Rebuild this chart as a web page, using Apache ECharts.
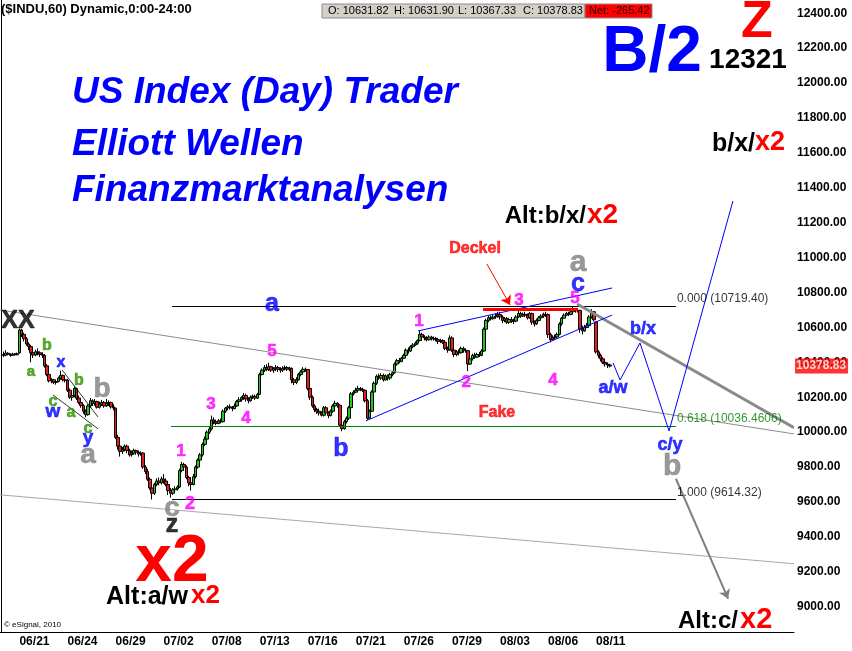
<!DOCTYPE html>
<html><head><meta charset="utf-8">
<script src="https://cdn.jsdelivr.net/npm/echarts@6/dist/echarts.min.js"></script>
<style>html,body{margin:0;padding:0;background:#fff}#c{width:852px;height:651px}</style>
</head><body><div id="c"></div>
<script>
// ---------------- DATA ----------------
const dayDates = ['06/18','06/21','06/22','06/23','06/24','06/25','06/28','06/29','06/30','07/01','07/02','07/06','07/07','07/08','07/09','07/12','07/13','07/14','07/15','07/16','07/19','07/20','07/21','07/22','07/23','07/26','07/27','07/28','07/29','07/30','08/02','08/03','08/04','08/05','08/06','08/09','08/10','08/11'];
const xTickLabels = ['06/21','06/24','06/29','07/02','07/08','07/13','07/16','07/21','07/26','07/29','08/03','08/06','08/11'];
const yTickValues = [9000,9200,9400,9600,9800,10000,10200,10400,10600,10800,11000,11200,11400,11600,11800,12000,12200,12400];
// hourly bars per day: [open, close, low, high]
const hourlyOHLC = [
[[10445,10440,10430,10462],[10440,10452,10435,10470],[10452,10446,10440,10458],[10446,10440,10432,10452],[10440,10447,10436,10455],[10447,10444,10438,10452],[10444,10450,10440,10456]],
[[10455,10585,10450,10594],[10585,10560,10545,10592],[10560,10535,10520,10570],[10535,10505,10495,10545],[10505,10490,10470,10515],[10490,10455,10400,10500],[10455,10442,10425,10465]],
[[10442,10460,10435,10472],[10460,10455,10440,10480],[10455,10445,10430,10462],[10445,10440,10425,10458],[10440,10380,10370,10448],[10380,10330,10320,10390],[10330,10294,10285,10340]],
[[10294,10300,10280,10310],[10300,10285,10275,10305],[10285,10290,10272,10300],[10290,10310,10285,10318],[10310,10325,10300,10352],[10325,10300,10290,10330],[10300,10298,10285,10310]],
[[10298,10240,10230,10305],[10240,10200,10190,10250],[10200,10210,10180,10225],[10210,10250,10200,10262],[10250,10195,10185,10255],[10195,10170,10160,10210],[10170,10152,10140,10180]],
[[10152,10120,10105,10160],[10120,10100,10085,10130],[10100,10150,10095,10160],[10150,10180,10140,10195],[10180,10165,10150,10188],[10165,10175,10150,10190],[10175,10143,10135,10180]],
[[10143,10160,10135,10175],[10160,10170,10150,10185],[10170,10150,10140,10178],[10150,10165,10145,10190],[10165,10170,10150,10182],[10170,10145,10135,10175],[10145,10138,10125,10160]],
[[10138,9970,9960,10140],[9970,9920,9900,9985],[9920,9890,9860,9930],[9890,9900,9875,9915],[9900,9920,9890,9930],[9920,9895,9880,9928],[9895,9870,9860,9905]],
[[9870,9880,9860,9895],[9880,9895,9870,9905],[9895,9885,9870,9900],[9885,9875,9860,9895],[9875,9880,9865,9890],[9880,9800,9790,9885],[9800,9774,9760,9810]],
[[9774,9730,9720,9790],[9730,9680,9670,9740],[9680,9650,9614,9690],[9650,9700,9640,9710],[9700,9720,9690,9735],[9720,9710,9695,9740],[9710,9732,9700,9745]],
[[9732,9720,9705,9760],[9720,9700,9690,9735],[9700,9665,9640,9710],[9665,9650,9625,9680],[9650,9670,9640,9680],[9670,9675,9655,9690],[9675,9686,9665,9695]],
[[9686,9780,9680,9790],[9780,9815,9770,9830],[9815,9800,9785,9825],[9800,9740,9730,9810],[9740,9710,9690,9750],[9710,9700,9665,9725],[9700,9745,9695,9760]],
[[9745,9800,9735,9810],[9800,9840,9790,9850],[9840,9870,9830,9880],[9870,9930,9860,9940],[9930,9960,9920,9975],[9960,10000,9950,10010],[10000,10018,9990,10035]],
[[10018,10070,10010,10095],[10070,10060,10045,10085],[10060,10050,10040,10070],[10050,10065,10045,10075],[10065,10060,10050,10078],[10060,10120,10055,10130],[10120,10138,10110,10145]],
[[10138,10145,10125,10155],[10145,10140,10130,10160],[10140,10135,10120,10150],[10135,10150,10130,10165],[10150,10175,10145,10185],[10175,10185,10165,10200],[10185,10198,10175,10205]],
[[10198,10210,10185,10225],[10210,10190,10175,10220],[10190,10180,10165,10200],[10180,10200,10175,10210],[10200,10205,10190,10215],[10205,10195,10185,10215],[10195,10216,10190,10225]],
[[10216,10330,10215,10340],[10330,10355,10325,10365],[10355,10370,10345,10385],[10370,10360,10350,10390],[10360,10375,10350,10398],[10375,10355,10345,10380],[10355,10363,10340,10372]],
[[10363,10370,10350,10385],[10370,10360,10345,10380],[10360,10355,10340,10372],[10355,10365,10345,10378],[10365,10370,10355,10382],[10370,10360,10350,10378],[10360,10366,10350,10375]],
[[10366,10300,10280,10370],[10300,10285,10270,10310],[10285,10300,10275,10315],[10300,10330,10295,10340],[10330,10345,10320,10355],[10345,10360,10335,10372],[10360,10359,10345,10370]],
[[10359,10250,10240,10362],[10250,10200,10185,10260],[10200,10150,10140,10210],[10150,10130,10115,10160],[10130,10120,10105,10140],[10120,10110,10095,10135],[10110,10097,10090,10120]],
[[10097,10140,10090,10150],[10140,10110,10100,10150],[10110,10095,10080,10120],[10095,10120,10090,10130],[10120,10150,10110,10160],[10150,10165,10140,10180],[10165,10154,10140,10172]],
[[10154,10040,10030,10160],[10040,10020,10005,10050],[10020,10060,10015,10070],[10060,10080,10050,10090],[10080,10140,10070,10150],[10140,10220,10130,10230],[10220,10229,10210,10240]],
[[10229,10240,10225,10255],[10240,10250,10235,10265],[10250,10245,10235,10258],[10245,10240,10230,10255],[10240,10180,10170,10245],[10180,10080,10070,10190],[10080,10120,10075,10130]],
[[10120,10230,10115,10240],[10230,10280,10220,10290],[10280,10320,10270,10330],[10320,10310,10300,10335],[10310,10325,10300,10338],[10325,10300,10290,10335],[10300,10322,10295,10330]],
[[10322,10310,10295,10330],[10310,10330,10300,10340],[10330,10340,10320,10350],[10340,10390,10335,10400],[10390,10410,10380,10420],[10410,10405,10395,10425],[10405,10424,10400,10432]],
[[10424,10440,10420,10450],[10440,10470,10430,10480],[10470,10465,10450,10485],[10465,10490,10460,10498],[10490,10500,10480,10510],[10500,10510,10495,10520],[10510,10525,10500,10532]],
[[10525,10560,10520,10585],[10560,10545,10535,10570],[10545,10540,10525,10555],[10540,10530,10520,10550],[10530,10545,10525,10555],[10545,10535,10525,10552],[10535,10537,10525,10548]],
[[10537,10530,10520,10545],[10530,10520,10505,10540],[10520,10525,10510,10535],[10525,10515,10505,10532],[10515,10480,10470,10520],[10480,10470,10455,10490],[10470,10540,10465,10555]],
[[10540,10470,10460,10550],[10470,10445,10430,10480],[10445,10460,10435,10470],[10460,10455,10440,10475],[10455,10480,10450,10490],[10480,10470,10455,10490],[10470,10467,10455,10480]],
[[10467,10390,10350,10470],[10390,10420,10385,10430],[10420,10440,10410,10450],[10440,10430,10420,10455],[10430,10445,10425,10455],[10445,10440,10430,10460],[10440,10465,10435,10475]],
[[10465,10590,10460,10600],[10590,10640,10580,10650],[10640,10655,10630,10670],[10655,10650,10640,10668],[10650,10660,10645,10675],[10660,10665,10650,10680],[10665,10674,10655,10690]],
[[10674,10660,10645,10690],[10660,10640,10625,10670],[10640,10650,10630,10660],[10650,10630,10620,10660],[10630,10645,10620,10655],[10645,10635,10625,10660],[10635,10636,10620,10650]],
[[10636,10660,10630,10670],[10660,10680,10655,10705],[10680,10665,10655,10690],[10665,10675,10660,10685],[10675,10670,10660,10690],[10670,10655,10645,10680],[10655,10680,10650,10690]],
[[10680,10630,10615,10685],[10630,10620,10605,10640],[10620,10640,10615,10650],[10640,10655,10635,10665],[10655,10665,10650,10675],[10665,10675,10655,10685],[10675,10674,10660,10690]],
[[10674,10560,10540,10680],[10560,10530,10515,10570],[10530,10540,10525,10555],[10540,10545,10530,10560],[10545,10560,10540,10570],[10560,10620,10555,10630],[10620,10653,10610,10660]],
[[10653,10670,10650,10680],[10670,10680,10665,10690],[10680,10675,10665,10690],[10675,10690,10670,10700],[10690,10700,10685,10719.4],[10700,10695,10685,10712],[10695,10698,10685,10708]],
[[10698,10590,10570,10700],[10590,10580,10560,10610],[10580,10600,10575,10615],[10600,10610,10595,10625],[10610,10660,10605,10670],[10660,10690,10650,10705],[10690,10644,10635,10695]],
[[10631.82,10460,10450,10631.9],[10460,10440,10425,10470],[10440,10420,10405,10450],[10420,10400,10390,10430],[10400,10390,10375,10410],[10390,10385,10367.33,10400],[10385,10378.83,10370,10392]]
];
const lastBar = {open:10631.82, high:10631.90, low:10367.33, close:10378.83, net:-265.42};

// ---------------- BUILD ----------------
const F = '"Liberation Sans", Arial, Helvetica, sans-serif';
const N = 347;
const categories = ['_0'];
const candles = ['-'];
dayDates.forEach((d, i) => hourlyOHLC[i].forEach((b, h) => { categories.push(d + ' ' + h); candles.push(b); }));
while (categories.length < N) categories.push('_' + categories.length);

const G = '#2f9400', B = '#0000ff', GR = '#808080', K = '#000000', M = '#ff00ff', R = '#ff0000';
// annotations in data space: [text, bar position, price, color, size]
const notes = [
 ['a',13.05,10345,G,15],['b',20.04,10494,G,16],['x',26.16,10397,B,16],['b',34.0,10294,G,16],
 ['c',22.66,10173,G,16],['w',22.66,10116,B,19],['a',30.53,10110,G,16],['c',37.96,10019,G,16],
 ['y',37.96,9967,B,19],['b',44.08,10248,GR,28],['a',37.96,9870,GR,28],['XX',7.37,10637,K,25],
 ['1',78.6,9893,M,17],['2',82.5,9590,M,18],['3',91.7,10162,M,17],['4',107.0,10082,M,17],
 ['c',74.67,9561,GR,28],['z',74.67,9469,K,25],['a',118.4,10734,B,25],['5',118.4,10465,M,17],
 ['b',148.5,9904,B,25],['1',182.6,10637,M,17],['2',203.2,10288,M,17],['3',226.3,10757,M,17],
 ['4',241.2,10299,M,17],['5',250.8,10769,M,17],['a',252.1,10969,GR,30],['c',252.1,10849,B,25],
 ['Deckel',207.1,11049,R,16],['Fake',216.7,10110,R,16],['b/x',280.5,10591,B,18],['a/w',267.4,10254,B,18],
 ['c/y',292.3,9927,B,18],['b',293.2,9801,GR,30]
];
const fibText = [
 ['0.000 (10719.40)',295.3,10763,'#000'],['0.618 (10036.4606)',295.3,10076,'#008000'],['1.000 (9614.32)',295.3,9652,'#000']
];
const segs = [
 {c:[[74.67,10719.4],[294.9,10719.4]], s:{color:'#000',width:1}},
 {c:[[74.2,10036.46],[294.9,10036.46]], s:{color:'#008000',width:1.2}},
 {c:[[74.67,9614.32],[294.9,9614.32]], s:{color:'#000',width:1}},
 {c:[[-0.5,10700],[346.5,9990]], s:{color:'#8c8c8c',width:1}},
 {c:[[-0.5,9641],[346.5,9246]], s:{color:'#a8a8a8',width:1}},
 {c:[[251.7,10734],[346.5,10025]], s:{color:'#8a8a8a',width:3}},
 {c:[[182.2,10580],[267,10826]], s:{color:'#0000ff',width:1}},
 {c:[[159.45,10065],[267,10671]], s:{color:'#0000ff',width:1}},
 {c:[[210.6,10706],[252.1,10706]], s:{color:'#ff0000',width:3}},
 {c:[[26.6,10357],[42.33,10087]], s:{color:'#000',width:0.8}},
 {c:[[22.66,10213],[42.33,10019]], s:{color:'#000',width:0.8}}
];
const zig = [[267.4,10397],[270.5,10299],[279.2,10511],[291.9,10007],[319.8,11324]];
const arrows = [
 {c:[[212.3,10963],[222.4,10729]], s:{color:'#ff0000',width:1}},
 {c:[[294.9,9733],[317.7,9046]], s:{color:'#808080',width:2}}
];

function gtext(text, x, y, font, fill, align, valign) {
  return {type:'text', x:x, y:y, z:100, style:{text:text, font:font, fill:fill, textAlign:align||'left', textVerticalAlign:valign||'middle'}};
}
const bi = s => 'italic bold ' + s + 'px ' + F;
const b = s => 'bold ' + s + 'px ' + F;

const option = {
  animation:false,
  backgroundColor:'#ffffff',
  grid:{left:0, right:58, top:0, bottom:19, show:false},
  xAxis:[
    {type:'category', data:categories, boundaryGap:true,
     axisLine:{show:true, lineStyle:{color:'#000', width:1}}, axisTick:{show:false},
     axisLabel:{interval:(i, v) => { const p = String(v).split(' '); return p.length === 2 && p[1] === '0' && xTickLabels.includes(p[0]); },
       formatter:v => String(v).split(' ')[0], align:'left', color:'#000', fontFamily:F, fontWeight:'bold', fontSize:12, margin:4},
     splitLine:{show:false}},
    {type:'value', min:-0.5, max:N-0.5, show:false}
  ],
  yAxis:[{type:'value', position:'right', min:8855, max:12476, scale:true,
    axisLine:{show:true, lineStyle:{color:'#000', width:1}}, axisTick:{show:false}, splitLine:{show:false},
    axisLabel:{customValues:yTickValues, formatter:v => Number(v).toFixed(2), color:'#000', fontFamily:F, fontWeight:'bold', fontSize:12, margin:3}}],
  series:[
    {type:'candlestick', xAxisIndex:0, yAxisIndex:0, data:candles, barWidth:3,
     itemStyle:{color:'#20c820', color0:'#e81c1c', borderColor:'#000', borderColor0:'#000', borderWidth:1}},
    {type:'lines', coordinateSystem:'cartesian2d', xAxisIndex:1, yAxisIndex:0, silent:true, z:5,
     data:segs.map(s => ({coords:s.c, lineStyle:s.s})), lineStyle:{opacity:1}},
    {type:'lines', coordinateSystem:'cartesian2d', xAxisIndex:1, yAxisIndex:0, silent:true, polyline:true, z:5,
     data:[{coords:zig}], lineStyle:{color:'#0000ff', width:1, opacity:1}},
    {type:'lines', coordinateSystem:'cartesian2d', xAxisIndex:1, yAxisIndex:0, silent:true, z:5,
     symbol:['none','arrow'], symbolSize:9,
     data:arrows.map(s => ({coords:s.c, lineStyle:s.s})), lineStyle:{opacity:1}},
    {type:'scatter', xAxisIndex:1, yAxisIndex:0, symbolSize:0.1, silent:true, z:10, clip:false,
     itemStyle:{color:'rgba(0,0,0,0)'},
     label:{show:true, position:'inside', fontFamily:F, fontWeight:'bold'},
     data:notes.map(n => ({value:[n[1], n[2]], label:{formatter:n[0], color:n[3], fontSize:n[4], textBorderColor:n[3], textBorderWidth:0.6}}))},
    {type:'scatter', xAxisIndex:1, yAxisIndex:0, symbolSize:0.1, silent:true, z:10, clip:false,
     itemStyle:{color:'rgba(0,0,0,0)'},
     label:{show:true, position:'right', distance:0, fontFamily:F, fontSize:12, textBorderWidth:0},
     data:fibText.map(n => ({value:[n[1], n[2]], label:{formatter:n[0], color:n[3]}}))},
    {type:'scatter', xAxisIndex:1, yAxisIndex:0, symbolSize:0.1, silent:true, z:10, clip:false,
     itemStyle:{color:'rgba(0,0,0,0)'},
     label:{show:true, position:'right', distance:1, formatter:lastBar.close.toFixed(2), color:'#fff', backgroundColor:'#ff0000',
       fontFamily:F, fontWeight:'bold', fontSize:12, padding:[2,2,1,1], textBorderWidth:0},
     data:[[N-0.5, lastBar.close]]}
  ],
  graphic:[
    gtext('($INDU,60) Dynamic,0:00-24:00', 1, 9, b(13), '#000'),
    {type:'rect', shape:{x:322, y:4, width:263, height:14}, style:{fill:'#d4d0c8', stroke:'#8c8c8c', lineWidth:1}, z:99},
    {type:'rect', shape:{x:585, y:4, width:67, height:14}, style:{fill:'#ff0000', stroke:'#8c8c8c', lineWidth:1}, z:99},
    gtext('O: ' + lastBar.open.toFixed(2), 328, 11, '11px ' + F, '#000'),
    gtext('H: ' + lastBar.high.toFixed(2), 394, 11, '11px ' + F, '#000'),
    gtext('L: ' + lastBar.low.toFixed(2), 458, 11, '11px ' + F, '#000'),
    gtext('C: ' + lastBar.close.toFixed(2), 523, 11, '11px ' + F, '#000'),
    gtext('Net: ' + lastBar.net.toFixed(2), 589, 11, '11px ' + F, '#300000'),
    gtext('US Index (Day) Trader', 72, 93, bi(37), '#0000ff'),
    gtext('Elliott Wellen', 72, 145, bi(37), '#0000ff'),
    gtext('Finanzmarktanalysen', 72, 191, bi(37), '#0000ff'),
    gtext('B/2', 652, 53, b(64), '#0000ff', 'center'),
    gtext('Z', 757, 23, b(52), '#ff0000', 'center'),
    gtext('12321', 748, 60, b(28), '#000', 'center'),
    gtext('b/x/', 755, 144, b(25), '#000', 'right'),
    gtext('x2', 755, 143, b(27), '#ff0000', 'left'),
    gtext('Alt:b/x/', 586, 216, b(24), '#000', 'right'),
    gtext('x2', 587, 215, b(28), '#ff0000', 'left'),
    gtext('x2', 172, 563, b(66), '#ff0000', 'center'),
    gtext('Alt:a/w', 188, 597, b(25), '#000', 'right'),
    gtext('x2', 191, 596, b(26), '#ff0000', 'left'),
    gtext('Alt:c/', 738, 621, b(24), '#000', 'right'),
    gtext('x2', 740, 620, b(29), '#ff0000', 'left'),
    gtext('\u00a9 eSignal, 2010', 4, 625, '8px ' + F, '#000')
  ]
};
const chart = echarts.init(document.getElementById('c'));
chart.setOption(option);
</script>
</body></html>
